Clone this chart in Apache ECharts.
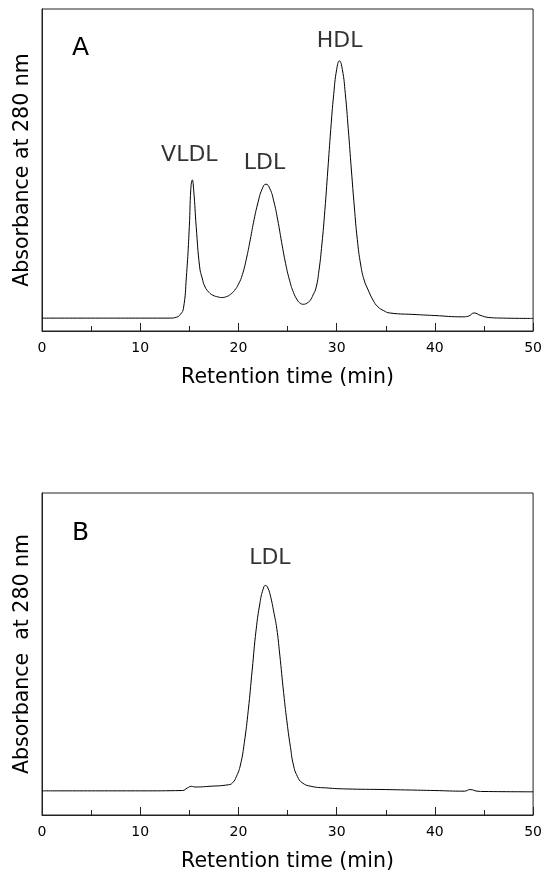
<!DOCTYPE html>
<html>
<head>
<meta charset="utf-8">
<script src="https://cdn.jsdelivr.net/npm/echarts@6/dist/echarts.min.js"></script>
<style>
  html, body { margin: 0; padding: 0; background: #fff; }
  #main { width: 545px; height: 873px; }
</style>
</head>
<body>
<div id="main"></div>
<script>
// panel A: whole serum lipoproteins (retention time, min / absorbance, arbitrary 0-100)
var timeA = [0, 5, 10, 13.0, 13.7, 14.1, 14.4, 14.7, 15.0, 15.15, 15.3, 15.45, 15.7, 16.05, 16.3, 16.6, 17.0, 17.4, 17.9, 18.3, 18.8, 19.2, 19.6, 20.0, 20.4, 20.8, 21.2, 21.6, 22.0, 22.4, 22.8, 23.2, 23.6, 24.0, 24.4, 24.8, 25.2, 25.6, 26.0, 26.3, 26.6, 27.0, 27.3, 27.6, 27.9, 28.2, 28.5, 28.8, 29.1, 29.4, 29.7, 30.0, 30.28, 30.58, 30.88, 31.18, 31.5, 31.8, 32.1, 32.45, 32.8, 33.2, 33.7, 34.2, 34.8, 35.4, 38.1, 40.0, 42.8, 43.4, 44.0, 44.6, 45.5, 47.0, 50];
var absA = [4.0, 4.0, 4.0, 4.0, 4.3, 5.2, 7.0, 16.8, 32.4, 44.0, 46.9, 43.5, 32.4, 19.9, 16.5, 13.7, 12.0, 11.1, 10.6, 10.4, 10.7, 11.4, 12.6, 14.5, 17.5, 22.3, 28.3, 34.7, 40.0, 44.0, 45.6, 44.2, 40.3, 34.5, 27.5, 21.0, 15.8, 12.0, 9.6, 8.6, 8.3, 8.7, 9.5, 11.2, 13.4, 18.8, 27.0, 37.5, 50.0, 62.6, 73.5, 81.2, 83.9, 81.2, 73.7, 62.8, 50.0, 38.5, 28.5, 20.5, 15.8, 12.8, 9.6, 7.5, 6.3, 5.6, 5.1, 4.8, 4.4, 4.6, 5.6, 4.9, 4.2, 4.0, 3.9];
var peakNamesA = ['VLDL', 'LDL', 'HDL'];
var peakXA = [15.0, 22.66, 30.3];
var peakYA = [54.6, 52.2, 90.0];

// panel B: isolated LDL
var timeB = [0, 10, 14.3, 14.8, 15.2, 15.6, 17, 19.0, 19.4, 19.8, 20.2, 20.6, 21.0, 21.4, 21.8, 22.2, 22.5, 22.75, 23.0, 23.3, 23.6, 23.9, 24.2, 24.6, 25.0, 25.3, 25.6, 26.0, 26.5, 27.4, 29, 30.9, 35, 40, 43.0, 43.6, 44.3, 45, 50];
var absB = [7.5, 7.5, 7.6, 8.4, 8.9, 8.7, 8.9, 9.4, 10.0, 12.0, 15.5, 22.5, 32.5, 45.0, 57.5, 66.0, 70.0, 71.3, 70.5, 67.5, 63.0, 58.0, 50.0, 38.0, 27.5, 21.0, 15.5, 12.0, 10.0, 8.9, 8.4, 8.1, 7.9, 7.6, 7.4, 7.9, 7.4, 7.3, 7.2];
var peakNamesB = ['LDL'];
var peakXB = [23.2];
var peakYB = [79.8];

var xTicks = [0, 10, 20, 30, 40, 50];

var FONT = 'DejaVu Sans';

function zip(xs, ys) {
  var out = [];
  for (var i = 0; i < xs.length; i++) out.push([xs[i], ys[i]]);
  return out;
}

function xAxisOf(idx) {
  return {
    gridIndex: idx,
    type: 'value',
    min: xTicks[0],
    max: xTicks[xTicks.length - 1],
    interval: 10,
    name: 'Retention time (min)',
    nameLocation: 'middle',
    nameGap: 36,
    nameTextStyle: { fontFamily: FONT, fontSize: 20.5, color: '#000' },
    axisLine: { lineStyle: { color: '#222', width: 1 } },
    axisTick: { inside: true, length: 8, lineStyle: { color: '#222' } },
    minorTick: { show: true, splitNumber: 2, length: 5, lineStyle: { color: '#222' } },
    axisLabel: { fontFamily: FONT, fontSize: 14, color: '#000', margin: 10 },
    splitLine: { show: false }
  };
}

function yAxisOf(idx, title) {
  return {
    gridIndex: idx,
    type: 'value',
    min: 0,
    max: 100,
    name: title,
    nameLocation: 'middle',
    nameGap: 9,
    nameTextStyle: { fontFamily: FONT, fontSize: 20.5, color: '#000' },
    axisLine: { show: true, lineStyle: { color: '#222', width: 1 } },
    axisTick: { show: false },
    axisLabel: { show: false },
    splitLine: { show: false }
  };
}

function labelSeries(idx, names, xs, ys) {
  return {
    type: 'scatter',
    xAxisIndex: idx,
    yAxisIndex: idx,
    symbolSize: 0,
    silent: true,
    data: names.map(function (n, i) { return { name: n, value: [xs[i], ys[i]] }; }),
    label: {
      show: true,
      position: 'inside',
      formatter: '{b}',
      fontFamily: FONT,
      fontSize: 22,
      color: '#000'
    }
  };
}

function traceSeries(idx, xs, ys) {
  return {
    type: 'line',
    xAxisIndex: idx,
    yAxisIndex: idx,
    data: zip(xs, ys),
    smooth: 0.5,
    showSymbol: false,
    silent: true,
    lineStyle: { color: '#000', width: 1 }
  };
}

var chart = echarts.init(document.getElementById('main'), null, { renderer: 'canvas' });
chart.setOption({
  animation: false,
  backgroundColor: '#fff',
  title: [
    { text: 'A', left: 67, top: 31, textStyle: { fontFamily: FONT, fontSize: 25, fontWeight: 'normal', color: '#000' } },
    { text: 'B', left: 67, top: 516, textStyle: { fontFamily: FONT, fontSize: 25, fontWeight: 'normal', color: '#000' } }
  ],
  grid: [
    { left: 42, right: 11, top: 9, height: 322, show: true, borderColor: '#222', borderWidth: 1 },
    { left: 42, right: 11, top: 493, height: 322, show: true, borderColor: '#222', borderWidth: 1 }
  ],
  xAxis: [xAxisOf(0), xAxisOf(1)],
  yAxis: [yAxisOf(0, 'Absorbance at 280 nm'), yAxisOf(1, 'Absorbance  at 280 nm')],
  series: [
    traceSeries(0, timeA, absA),
    traceSeries(1, timeB, absB),
    labelSeries(0, peakNamesA, peakXA, peakYA),
    labelSeries(1, peakNamesB, peakXB, peakYB)
  ]
});
</script>
</body>
</html>
